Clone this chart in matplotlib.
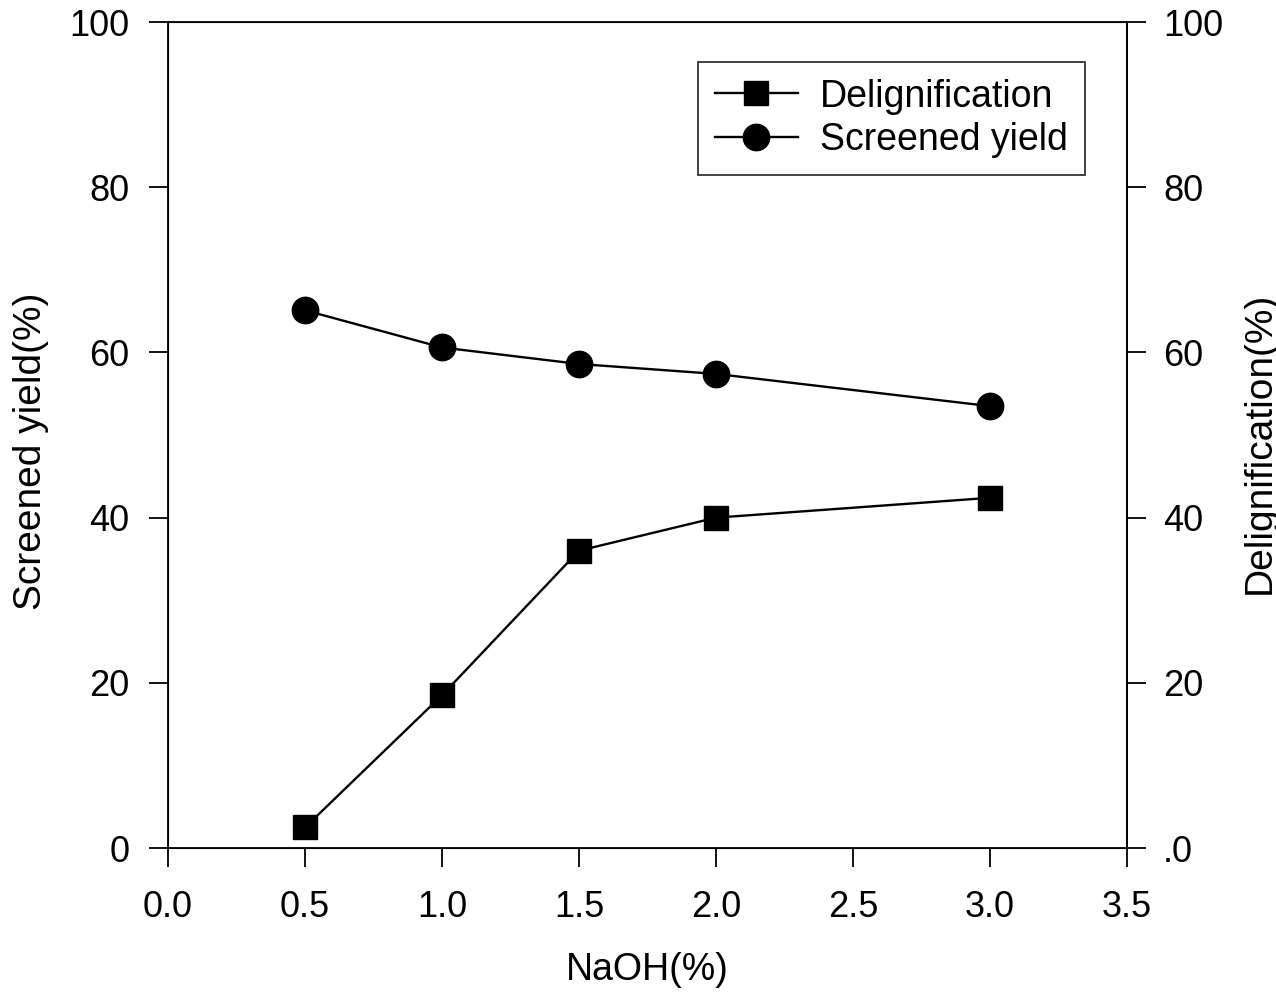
import numpy as np
from matplotlib import pyplot as plt

plt.rcParams['font.family'] = ['Liberation Sans', 'DejaVu Sans']

# data
naoh = [0.5, 1.0, 1.5, 2.0, 3.0]
delignification = [2.5, 18.5, 36.0, 40.0, 42.4]
screened_yield = [65.1, 60.6, 58.6, 57.4, 53.5]

xticks = [0.0, 0.5, 1.0, 1.5, 2.0, 2.5, 3.0, 3.5]
yticks = [0, 20, 40, 60, 80, 100]
right_labels = ['.0', '20', '40', '60', '80', '100']

fig = plt.figure(figsize=(12.76, 10.01), dpi=100)
ax = fig.add_axes([0.1317, 0.1528, 0.7515, 0.8252])

ax.plot(naoh, delignification, '-s', color='black', lw=1.7, ms=17,
        label='Delignification')
ax.plot(naoh, screened_yield, '-o', color='black', lw=1.7, ms=19,
        label='Screened yield')

ax.set_xlim(0, 3.5)
ax.set_ylim(0, 100)
ax.set_xticks(xticks)
ax.set_xticklabels(['%.1f' % t for t in xticks])
ax.set_yticks(yticks)
ax.tick_params(direction='out', length=14, width=1.3, labelsize=26, pad=14)
ax.tick_params(axis='x', pad=16)
for s in ax.spines.values():
    s.set_linewidth(1.3)

ax.set_xlabel('NaOH(%)', fontsize=27, labelpad=20)
ax.set_ylabel('Screened yield(%)', fontsize=28)
ax.yaxis.set_label_coords(-0.124, 0.48)

ax2 = ax.twinx()
ax2.set_ylim(0, 100)
ax2.set_yticks(yticks)
ax2.set_yticklabels(right_labels)
ax2.tick_params(direction='out', length=14, width=1.3, labelsize=26, pad=12)
ax2.spines['right'].set_linewidth(1.3)
ax2.set_ylabel('Delignification(%)', fontsize=28)
ax2.yaxis.set_label_coords(1.12, 0.49)

leg = ax.legend(loc='upper right', bbox_to_anchor=(0.956, 0.952), fontsize=27,
                frameon=True, fancybox=False, edgecolor='black',
                handlelength=2.2, handletextpad=0.6, borderpad=0.45,
                labelspacing=0.2, borderaxespad=0)
leg.get_frame().set_linewidth(1.3)

plt.savefig('out.png', dpi=100)
